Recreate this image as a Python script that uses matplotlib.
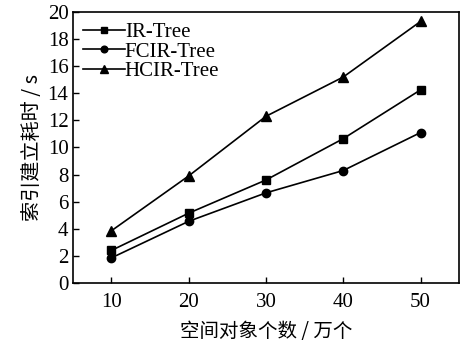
import matplotlib
matplotlib.use('Agg')
import matplotlib.pyplot as plt

# data
objects = [10, 20, 30, 40, 50]
ir_tree = [2.4, 5.15, 7.6, 10.65, 14.25]
fcir_tree = [1.85, 4.55, 6.65, 8.3, 11.1]
hcir_tree = [3.85, 7.9, 12.3, 15.2, 19.3]

plt.rcParams['font.family'] = ['Liberation Serif', 'Noto Sans CJK SC']

fig = plt.figure(figsize=(4.69, 3.43), dpi=100)
ax = fig.add_axes([0.155, 0.175, 0.824, 0.79])

ax.plot(objects, ir_tree, color='black', marker='s', markersize=5.5, lw=1.2, label='IR-Tree')
ax.plot(objects, fcir_tree, color='black', marker='o', markersize=6, lw=1.2, label='FCIR-Tree')
ax.plot(objects, hcir_tree, color='black', marker='^', markersize=7, lw=1.2, label='HCIR-Tree')

ax.set_xlim(5, 55)
ax.set_ylim(0, 20)
ax.set_xticks(objects)
ax.set_yticks(range(0, 21, 2))
ax.tick_params(direction='in', labelsize=15, length=4, width=1, pad=3,
               top=False, right=False)
ax.tick_params(axis='x', pad=7)
for s in ax.spines.values():
    s.set_linewidth(1.2)

cjk = ['Noto Sans CJK SC', 'DejaVu Sans']
ax.set_xlabel('空间对象个数 / 万个', fontsize=14, family=cjk, labelpad=7)
ax.set_ylabel('索引建立耗时 / s', fontsize=14.5, family=cjk, labelpad=3)

leg = ax.legend(loc='upper left', frameon=False, fontsize=15, handlelength=2.0,
                handletextpad=0.0, labelspacing=0.0, borderaxespad=0.4,
                borderpad=0.1, markerscale=0.8)

fig.savefig('out.png', dpi=100)
